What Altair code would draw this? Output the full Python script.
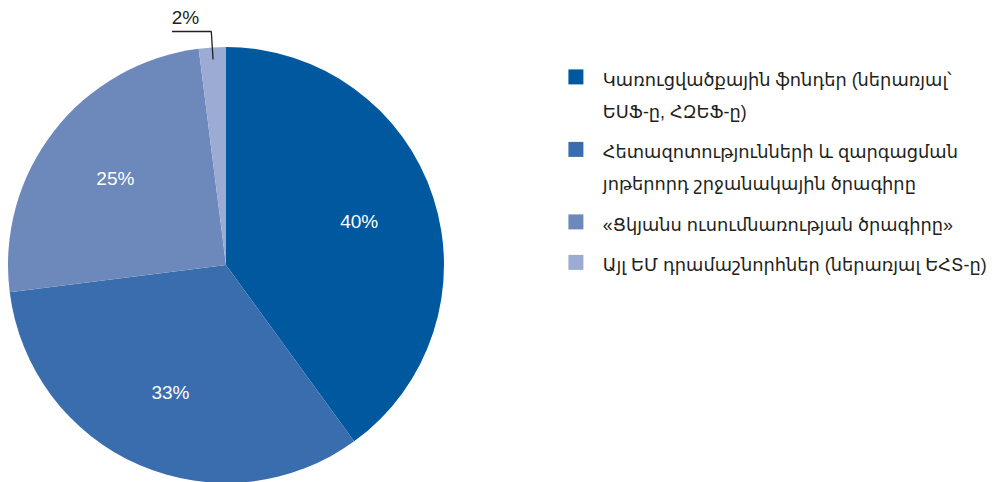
import altair as alt
import pandas as pd

categories = [
    "Կառուցվածքային ֆոնդեր (ներառյալ՝|ԵՍՖ-ը, ՀԶԵՖ-ը)",
    "Հետազոտությունների և զարգացման|յոթերորդ շրջանակային ծրագիրը",
    "«Ցկյանս ուսումնառության ծրագիրը»",
    "Այլ ԵՄ դրամաշնորհներ (ներառյալ ԵՀՏ-ը)",
]
values = [40, 33, 25, 2]
colors = ["#00599f", "#3a6dad", "#6d88bb", "#9cabd3"]

FONT = "Liberation Sans, Arial, DejaVu Sans"

df = pd.DataFrame({"cat": categories, "value": values, "idx": list(range(len(values)))})

base = alt.Chart(df).transform_calculate(
    inner="datum.value >= 5 ? datum.value + '%' : ''",
)

tscale = alt.Scale(domain=[0, 100])
theta = alt.Theta("value:Q", stack=True, scale=tscale)
order = alt.Order("idx:Q", sort="ascending")
cy = alt.value(257)

color = alt.Color(
    "cat:N",
    scale=alt.Scale(domain=categories, range=colors),
    sort=categories,
    legend=alt.Legend(
        title=None,
        orient="none",
        legendX=559,
        legendY=60,
        padding=0,
        symbolType="square",
        symbolSize=225,
        symbolStrokeWidth=0,
        labelFont=FONT,
        labelFontSize=17.8,
        labelColor="#231f20",
        labelLimit=420,
        labelOffset=18,
        rowPadding=18.5,
        labelExpr="split(datum.label, '|')",
    ),
)

pie = base.mark_arc(radius=218).encode(theta=theta, order=order, color=color, y=cy)

inner_labels = base.mark_text(radius=140, font=FONT, fontSize=19, color="white").encode(
    theta=theta, order=order, text="inner:N", y=cy
)

small = (
    base.transform_window(cum="sum(value)", sort=[alt.SortField("idx")], frame=[None, 0])
    .transform_calculate(mid="datum.cum - datum.value / 2", outer="datum.value + '%'")
    .transform_filter("datum.value < 5")
)

outer_labels = small.mark_text(radius=247, dx=-25, font=FONT, fontSize=19, color="#231f20").encode(
    theta=alt.Theta("mid:Q", scale=tscale), text="outer:N", y=cy
)

leader = small.mark_arc(
    radius=234, radius2=206, fillOpacity=0, stroke="#231f20", strokeWidth=1.3
).encode(theta=alt.Theta("mid:Q", scale=tscale), theta2="mid:Q", y=cy)

leader_h = small.mark_rule(color="#231f20", strokeWidth=1.3).encode(
    x=alt.value(164), x2=alt.value(203.5), y=alt.value(23.5)
)

chart = (
    alt.layer(pie, inner_labels, outer_labels, leader, leader_h)
    .properties(width=436, height=466, padding=0)
    .configure(style={"guide-label": {"lineHeight": 32, "dy": 4}})
    .configure_view(stroke=None)
)

chart.save("out.html", embed_options={"renderer": "svg", "actions": False})
